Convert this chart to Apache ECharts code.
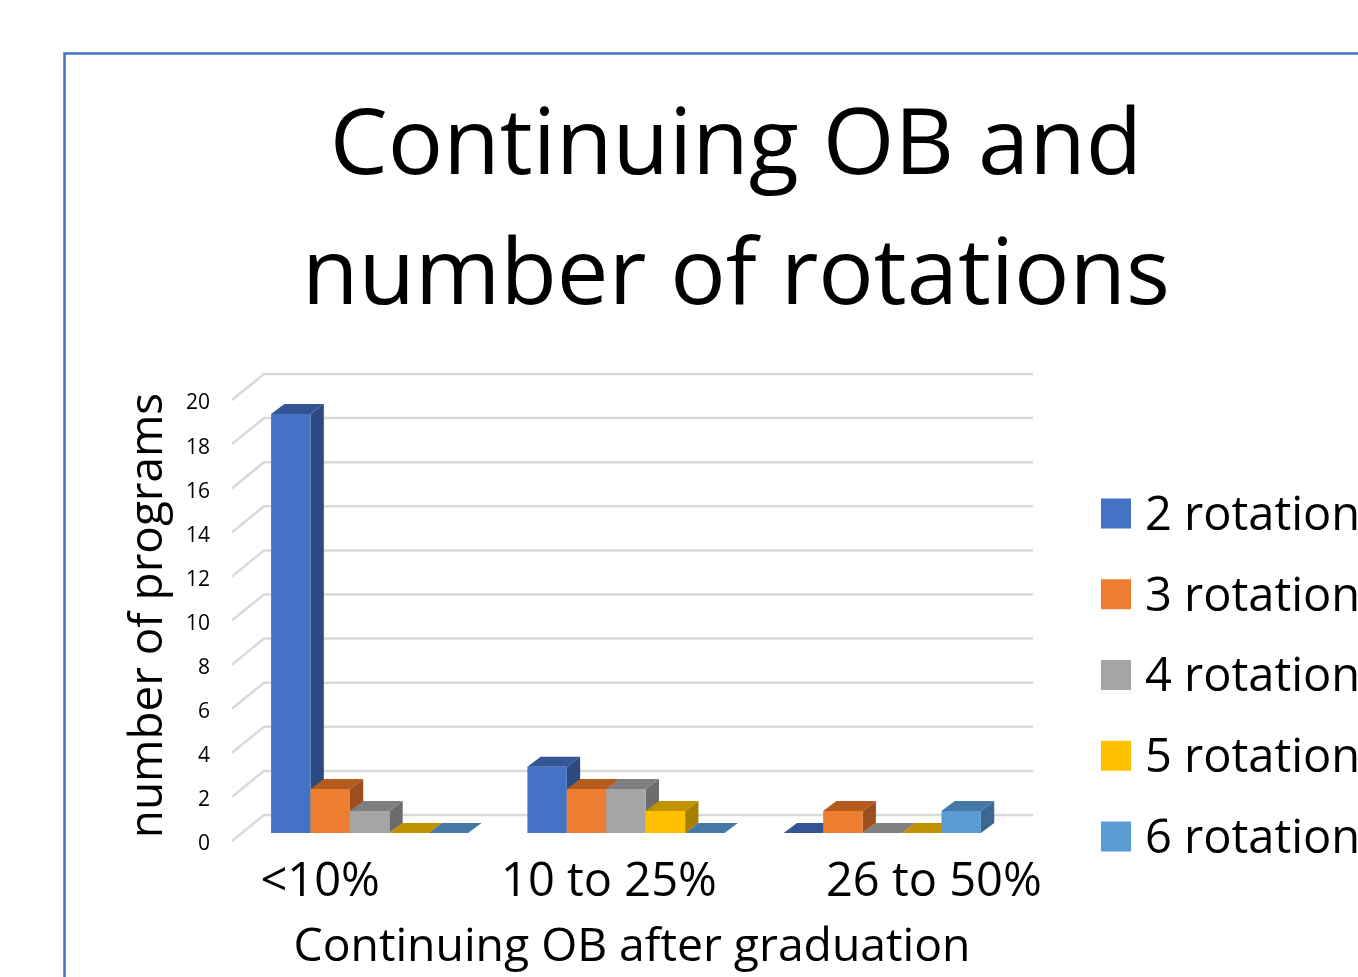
<!DOCTYPE html>
<html>
<head>
<meta charset="utf-8">
<style>html,body{margin:0;padding:0;background:#fff;overflow:hidden}#chart{width:1358px;height:977px}</style>
<script src="https://cdn.jsdelivr.net/npm/echarts@6/dist/echarts.min.js"></script>
</head>
<body>
<div id="chart"></div>
<script>
const categories = ['<10%', '10 to 25%', '26 to 50%'];
const yTicks = [0, 2, 4, 6, 8, 10, 12, 14, 16, 18, 20];
const seriesNames = ['2 rotation', '3 rotation', '4 rotation', '5 rotation', '6 rotation'];
const rotation2 = [19, 3, 0];
const rotation3 = [2, 2, 1];
const rotation4 = [1, 2, 0];
const rotation5 = [0, 1, 0];
const rotation6 = [0, 0, 1];
const seriesValues = [rotation2, rotation3, rotation4, rotation5, rotation6];

// face colours per series: front, top, side
const faces = [
  ['#4472C4', '#335593', '#2A4A80'],
  ['#ED7D31', '#B55B20', '#9C4F1C'],
  ['#A5A5A5', '#7F7F7F', '#6C6C6C'],
  ['#FFC000', '#C09200', '#A67E00'],
  ['#5B9BD5', '#4678A5', '#3C6890']
];

// perspective of the floor and the bars
const WALL_DX = 32, WALL_DY = 26;
const BAR_SHIFT_X = 9.5, BAR_SHIFT_Y = 8;
const BAR_DX = 13.3, BAR_DY = 10;
const GAP_WIDTH = 1.5;
const FONT = '"Open Sans", "Noto Sans", sans-serif';

function renderWall(params, api) {
  const cs = params.coordSys;
  const y = api.coord([0, api.value(1)])[1];
  return {
    type: 'polyline',
    shape: { points: [[cs.x, y], [cs.x + WALL_DX, y - WALL_DY], [cs.x + cs.width + WALL_DX, y - WALL_DY]] },
    style: { fill: null, stroke: '#D9D9D9', lineWidth: 2.5 },
    silent: true
  };
}

function barRenderer(idx) {
  const [front, top, side] = faces[idx];
  const count = seriesValues.length;
  return function (params, api) {
    const cat = api.value(0);
    const val = api.value(1);
    const band = api.size([1, 0])[0];
    const w = band / (count + GAP_WIDTH);
    const base = api.coord([cat, 0]);
    const tip = api.coord([cat, val]);
    const x0 = base[0] + BAR_SHIFT_X - w * count / 2 + idx * w;
    const x1 = x0 + w;
    const yb = base[1] - BAR_SHIFT_Y;
    const yt = tip[1] - BAR_SHIFT_Y;
    const children = [];
    if (val > 0) {
      children.push({
        type: 'polygon',
        shape: { points: [[x1, yb], [x1 + BAR_DX, yb - BAR_DY], [x1 + BAR_DX, yt - BAR_DY], [x1, yt]] },
        style: { fill: side }
      });
    }
    children.push({
      type: 'polygon',
      shape: { points: [[x0, yt], [x0 + BAR_DX, yt - BAR_DY], [x1 + BAR_DX, yt - BAR_DY], [x1, yt]] },
      style: { fill: top }
    });
    if (val > 0) {
      children.push({
        type: 'rect',
        shape: { x: x0, y: yt, width: w, height: yb - yt },
        style: { fill: front }
      });
    }
    return { type: 'group', children };
  };
}

const barSeries = seriesNames.map((name, i) => ({
  name,
  type: 'custom',
  renderItem: barRenderer(i),
  itemStyle: { color: faces[i][0] },
  data: seriesValues[i].map((v, c) => [c, v]),
  encode: { x: 0, y: 1 },
  z: 3 + i
}));

const chart = echarts.init(document.getElementById('chart'), null, { renderer: 'canvas' });
chart.setOption({
  animation: false,
  backgroundColor: '#fff',
  title: {
    text: 'Continuing OB and\nnumber of rotations',
    left: 731,
    top: 78,
    textAlign: 'center',
    textStyle: { fontFamily: FONT, fontSize: 92.2, fontWeight: 'normal', color: '#000', lineHeight: 130 }
  },
  legend: {
    data: seriesNames,
    orient: 'vertical',
    left: 1101,
    top: 487,
    padding: 0,
    icon: 'rect',
    itemWidth: 30,
    itemHeight: 30,
    itemGap: 27.75,
    formatter: '{t|{name}}',
    textStyle: {
      rich: { t: { fontFamily: FONT, fontSize: 47, color: '#000', lineHeight: 50, padding: [6, 0, 0, 9] } }
    }
  },
  grid: { left: 232, top: 400, width: 769, height: 441 },
  xAxis: {
    type: 'category',
    data: [
      { value: categories[0], textStyle: { padding: [0, 80, 0, 0] } },
      { value: categories[1], textStyle: { padding: [0, 15, 0, 0] } },
      { value: categories[2], textStyle: { padding: [0, 0, 0, 122] } }
    ],
    axisLine: { show: false },
    axisTick: { show: false },
    axisLabel: { fontFamily: FONT, fontSize: 47, color: '#000', margin: 18, interval: 0 },
    name: 'Continuing OB after graduation',
    nameLocation: 'middle',
    nameGap: 84,
    nameTextStyle: { fontFamily: FONT, fontSize: 46.3, color: '#000', padding: [0, 0, 0, 31] }
  },
  yAxis: {
    type: 'value',
    min: 0,
    max: 20,
    interval: 2,
    axisLine: { show: false },
    axisTick: { show: false },
    splitLine: { show: false },
    axisLabel: {
      margin: 22,
      formatter: '{t|{value}}',
      rich: { t: { fontFamily: FONT, fontSize: 21, color: '#000', padding: [7, 0, 0, 0] } }
    },
    name: 'number of programs',
    nameLocation: 'middle',
    nameGap: 60,
    nameTextStyle: { fontFamily: FONT, fontSize: 45.8, color: '#000', padding: [0, 0, 0, 10] }
  },
  graphic: [{
    type: 'polyline',
    shape: { points: [[64.5, 977], [64.5, 53.5], [1358, 53.5]] },
    style: { fill: null, stroke: '#4472C4', lineWidth: 2.5 },
    silent: true
  }],
  series: [{
    type: 'custom',
    renderItem: renderWall,
    data: yTicks.map(v => [0, v]),
    encode: { x: 0, y: 1 },
    z: 1,
    silent: true
  }].concat(barSeries)
});
</script>
</body>
</html>
